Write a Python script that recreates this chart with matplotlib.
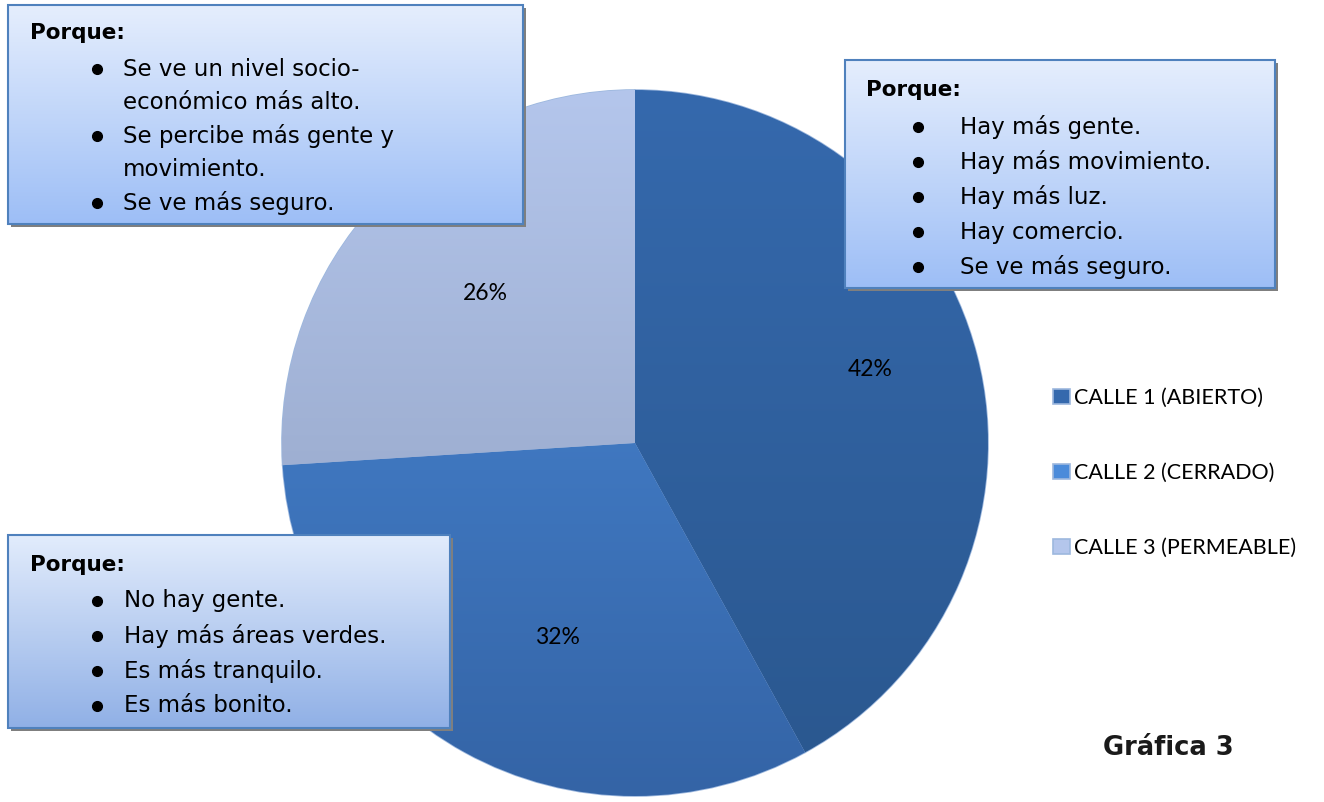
import numpy as np
import matplotlib
matplotlib.use("Agg")
from matplotlib import pyplot as plt
from matplotlib.patches import Rectangle
from matplotlib.colors import LinearSegmentedColormap

labels = ['CALLE 1 (ABIERTO)', 'CALLE 2 (CERRADO)', 'CALLE 3 (PERMEABLE)']
values = [42, 32, 26]
pct_text = ['42%', '32%', '26%']

box1_lines = ['Se ve un nivel socio-', 'económico más alto.', 'Se percibe más gente y', 'movimiento.', 'Se ve más seguro.']
box1_bullets = [True, False, True, False, True]
box2_lines = ['Hay más gente.', 'Hay más movimiento.', 'Hay más luz.', 'Hay comercio.', 'Se ve más seguro.']
box3_lines = ['No hay gente.', 'Hay más áreas verdes.', 'Es más tranquilo.', 'Es más bonito.']

W, H = 1324, 802
fig = plt.figure(figsize=(W / 100, H / 100), dpi=100)
ax = fig.add_axes([0, 0, 1, 1])
ax.set_xlim(0, W)
ax.set_ylim(0, H)
ax.axis('off')

# pie, top/bottom colours of each slice
tops = ['#3569AD', '#4B8BDA', '#B4C6EC']
bots = ['#2A578E', '#3464A6', '#8B9BBB']
cx, cy, r = 635, H - 443, 353
wedges, _ = ax.pie(values, startangle=90, counterclock=False, center=(cx, cy), radius=r,
                   colors=tops, wedgeprops=dict(edgecolor='#9DB8DE', linewidth=1.2))
ax.set_xlim(0, W)
ax.set_ylim(0, H)
ax.set_aspect('auto')
grad = np.linspace(1, 0, 256).reshape(-1, 1)
for w, t, b in zip(wedges, tops, bots):
    cm = LinearSegmentedColormap.from_list('g', [b, t])
    im = ax.imshow(grad, cmap=cm, extent=(cx - r, cx + r, cy - r, cy + r), aspect='auto', zorder=1.5)
    im.set_clip_path(w)
    w.set_zorder(1)

lfont = 'Lato'
pct_pos = [(870, 370), (557, 638), (485, 294)]
for s, (px, py) in zip(pct_text, pct_pos):
    ax.text(px, H - py, s, fontsize=16.5, family=lfont, ha='center', va='center', zorder=3)

leg = ax.legend(wedges, labels, loc='center left', bbox_to_anchor=(1034, H - 473),
                bbox_transform=ax.transData, frameon=False,
                prop=dict(family=lfont, size=15.5), labelspacing=2.55,
                handlelength=0.75, handleheight=0.75, handletextpad=0.2)
for h in leg.legend_handles:
    h.set_edgecolor('#9DB8DE')


def box(x0, y0, x1, y1, top='#E5EEFD', bot='#9DBEF6'):
    # shadow
    ax.add_patch(Rectangle((x0 + 3, H - y1 - 3), x1 - x0, y1 - y0, facecolor='#7F7F7F',
                           edgecolor='none', zorder=4))
    cm = LinearSegmentedColormap.from_list('b', [bot, top])
    ax.imshow(grad, cmap=cm, extent=(x0, x1, H - y1, H - y0), aspect='auto', zorder=5)
    ax.add_patch(Rectangle((x0, H - y1), x1 - x0, y1 - y0, facecolor='none',
                           edgecolor='#4F81BD', linewidth=1.5, zorder=6))


def bullet(x, y):
    ax.plot([x], [y], 'o', color='black', markersize=7, zorder=7)


font = 'DejaVu Sans'
fs = 16.5

# box 1
box(8, 5, 523, 224)
ax.text(30, H - 33, 'Porque:', fontsize=15.5, weight='bold', family=font, va='center', zorder=7)
for i, (s, b) in enumerate(zip(box1_lines, box1_bullets)):
    y = H - (69 + i * 33.5)
    if b:
        bullet(97, y)
    ax.text(123, y, s, fontsize=fs, family=font, va='center', zorder=7)

# box 2
box(845, 60, 1275, 288)
ax.text(866, H - 90, 'Porque:', fontsize=15.5, weight='bold', family=font, va='center', zorder=7)
for i, s in enumerate(box2_lines):
    y = H - (127 + i * 35)
    bullet(918, y)
    ax.text(960, y, s, fontsize=fs, family=font, va='center', zorder=7)

# box 3
box(8, 535, 450, 728, top='#E2ECFC', bot='#90B0E6')
ax.text(30, H - 565, 'Porque:', fontsize=15.5, weight='bold', family=font, va='center', zorder=7)
for i, s in enumerate(box3_lines):
    y = H - (601 + i * 35)
    bullet(97, y)
    ax.text(124, y, s, fontsize=fs, family=font, va='center', zorder=7)

ax.text(1168, H - 748, 'Gráfica 3', fontsize=18.5, weight='bold', family=font,
        ha='center', va='center', color='#1A1A1A')

plt.savefig('out.png', dpi=100)
